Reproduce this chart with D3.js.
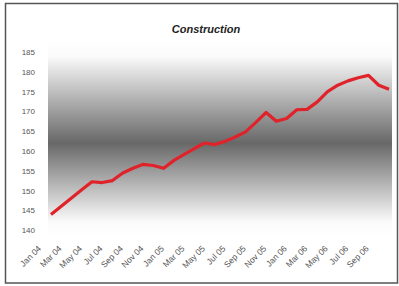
<!DOCTYPE html>
<html>
<head>
<meta charset="utf-8">
<script src="https://cdn.jsdelivr.net/npm/d3@7"></script>
<style>
  html, body { margin: 0; padding: 0; background: #fff; }
  svg { display: block; }
</style>
</head>
<body>
<div id="chart"></div>
<script>
const title = "Construction";
const months = ["Jan 04","Feb 04","Mar 04","Apr 04","May 04","Jun 04","Jul 04","Aug 04","Sep 04","Oct 04","Nov 04","Dec 04",
                "Jan 05","Feb 05","Mar 05","Apr 05","May 05","Jun 05","Jul 05","Aug 05","Sep 05","Oct 05","Nov 05","Dec 05",
                "Jan 06","Feb 06","Mar 06","Apr 06","May 06","Jun 06","Jul 06","Aug 06","Sep 06","Oct 06"];
const values = [143.9, 146.0, 148.1, 150.2, 152.2, 152.0, 152.5, 154.4, 155.6, 156.6, 156.3, 155.6,
                157.6, 159.1, 160.6, 162.0, 161.6, 162.4, 163.5, 164.8, 167.2, 169.7, 167.5, 168.2,
                170.4, 170.5, 172.4, 175.0, 176.6, 177.7, 178.5, 179.1, 176.6, 175.6];
const yTicks = [140, 145, 150, 155, 160, 165, 170, 175, 180, 185];
const xTickLabels = months.filter((d, i) => i % 2 === 0);

const W = 399, H = 286;
const plot = { left: 48, right: 392, top: 40, bottom: 238 };

const svg = d3.select("#chart").append("svg").attr("width", W).attr("height", H);
const defs = svg.append("defs");

const grad = defs.append("linearGradient").attr("id", "bg").attr("x1", 0).attr("y1", 0).attr("x2", 0).attr("y2", 1);
[[0, "#ffffff"], [0.08, "#fbfbfb"], [0.52, "#686868"], [0.92, "#fbfbfb"], [1, "#ffffff"]]
  .forEach(([o, c]) => grad.append("stop").attr("offset", o).attr("stop-color", c));

// outer frame
svg.append("rect").attr("x", 5.5).attr("y", 3.5).attr("width", 392).attr("height", 279.5)
  .attr("fill", "#fff").attr("stroke", "#555").attr("stroke-width", 1.5);

// plot background
svg.append("rect").attr("x", plot.left).attr("y", plot.top)
  .attr("width", plot.right - plot.left).attr("height", plot.bottom - plot.top)
  .attr("fill", "url(#bg)");

const x = d3.scalePoint().domain(months).range([51, 389]);
const y = d3.scaleLinear().domain([140, 185]).range([230, 52]);

// title
svg.append("text").attr("x", 206).attr("y", 33).attr("text-anchor", "middle")
  .attr("font-family", "Liberation Sans, Arial, sans-serif").attr("font-size", 11)
  .attr("font-weight", "bold").attr("font-style", "italic").attr("fill", "#222")
  .text(title);

// y axis labels
const yAxis = d3.axisLeft(y).tickValues(yTicks).tickSize(0).tickPadding(0);
const gy = svg.append("g").attr("transform", "translate(35,0)").call(yAxis);
gy.select(".domain").remove();
gy.selectAll("text").attr("font-family", "Liberation Sans, Arial, sans-serif")
  .attr("font-size", 8).attr("fill", "#555");

// x axis labels
const xAxis = d3.axisBottom(x).tickValues(xTickLabels).tickSize(0).tickPadding(0);
const gx = svg.append("g").attr("transform", "translate(0,247)").call(xAxis);
gx.select(".domain").remove();
gx.selectAll("text")
  .attr("font-family", "Liberation Sans, Arial, sans-serif").attr("font-size", 8.5).attr("fill", "#555")
  .attr("text-anchor", "end").attr("dy", "0.35em").attr("y", 0)
  .attr("transform", "translate(-12,0) rotate(-45)");

// line
const line = d3.line().x((d, i) => x(months[i])).y(d => y(d));
svg.append("path").datum(values).attr("d", line)
  .attr("fill", "none").attr("stroke", "#e0232a").attr("stroke-width", 3.2)
  .attr("stroke-linejoin", "round").attr("stroke-linecap", "butt");
</script>
</body>
</html>
